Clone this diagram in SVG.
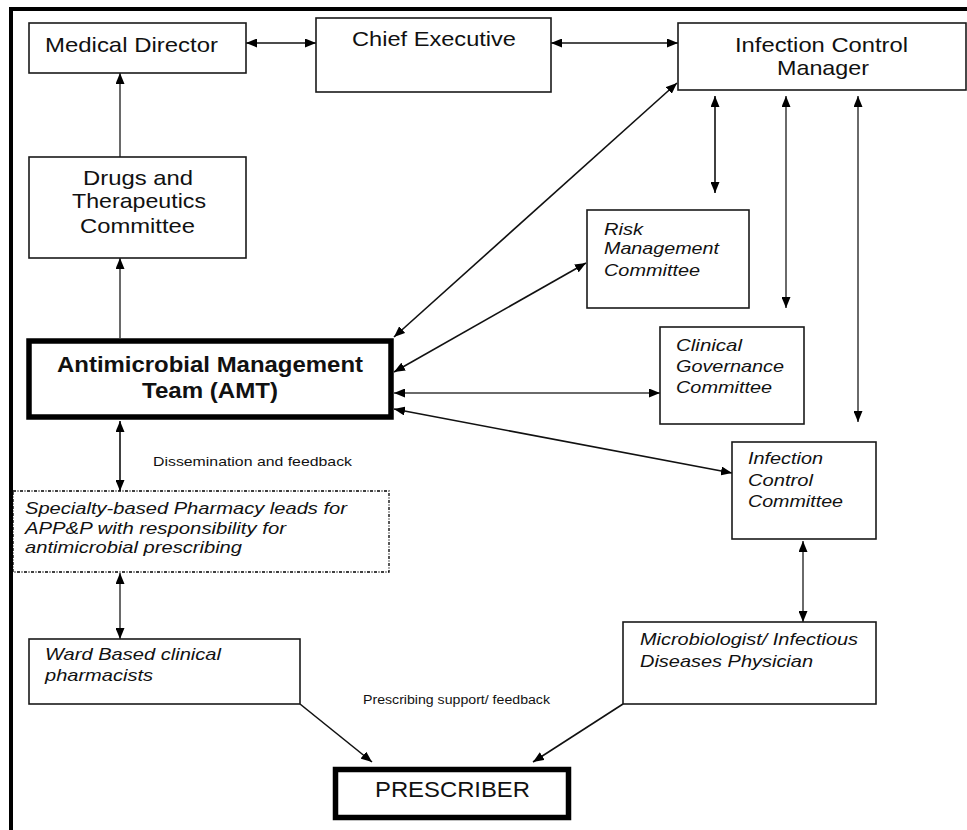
<svg xmlns="http://www.w3.org/2000/svg" width="967" height="830" viewBox="0 0 967 830">
  <style>
    text { font-family: "Liberation Sans", Arial, Helvetica, sans-serif; fill: #111; }
    .box { fill: #fff; stroke: #1a1a1a; stroke-width: 1.6; }
    .heavy { fill: #fff; stroke: #000; stroke-width: 5.5; }
    .dotted { fill: #fff; stroke: #000; stroke-width: 1.3; stroke-dasharray: 3 1.5 1 1.5; }
    .t20 { font-size: 21px; }
    .bold { font-size: 22px; font-weight: bold; }
    .it { font-size: 17px; font-style: italic; }
    .small { font-size: 13.5px; }
    .tiny { font-size: 12px; }
    .c { fill: none; stroke: #111; stroke-width: 1.6; }
    .g { fill: none; stroke: #6a6a6a; stroke-width: 2; }
  </style>
  <defs>
    <marker id="ah" markerUnits="userSpaceOnUse" markerWidth="11" markerHeight="9" refX="11" refY="4.5" orient="auto-start-reverse">
      <path d="M0,0 L11,4.5 L0,9 Z" fill="#000"/>
    </marker>
  </defs>

  <rect width="967" height="830" fill="#fff"/>

  <!-- outer frame (top and left rules) -->
  <g id="frame" stroke="#000" stroke-width="4" fill="none">
    <line x1="9" y1="9" x2="967" y2="9"/>
    <line x1="11" y1="7" x2="11" y2="830"/>
  </g>

  <!-- connectors -->
  <g id="connectors">
    <line class="c" x1="246" y1="43" x2="316" y2="43" marker-start="url(#ah)" marker-end="url(#ah)"/>
    <line class="c" x1="551" y1="43" x2="678" y2="43" marker-start="url(#ah)" marker-end="url(#ah)"/>
    <line class="g" x1="120" y1="157" x2="120" y2="73" marker-end="url(#ah)"/>
    <line class="g" x1="120" y1="338" x2="120" y2="258" marker-end="url(#ah)"/>
    <line class="c" x1="394" y1="337" x2="677" y2="83" marker-start="url(#ah)" marker-end="url(#ah)"/>
    <line class="c" x1="394" y1="372" x2="586" y2="263" marker-start="url(#ah)" marker-end="url(#ah)"/>
    <line class="g" x1="394" y1="393" x2="660" y2="393" marker-start="url(#ah)" marker-end="url(#ah)"/>
    <line class="c" x1="394" y1="409" x2="732" y2="473" marker-start="url(#ah)" marker-end="url(#ah)"/>
    <line class="c" x1="715" y1="96" x2="715" y2="193" marker-start="url(#ah)" marker-end="url(#ah)"/>
    <line class="g" x1="786" y1="96" x2="786" y2="308" marker-start="url(#ah)" marker-end="url(#ah)"/>
    <line class="g" x1="858" y1="96" x2="858" y2="422" marker-start="url(#ah)" marker-end="url(#ah)"/>
    <line class="g" x1="803" y1="541" x2="803" y2="622" marker-start="url(#ah)" marker-end="url(#ah)"/>
    <line class="c" x1="120" y1="421" x2="120" y2="491" marker-start="url(#ah)" marker-end="url(#ah)"/>
    <line class="g" x1="120" y1="573" x2="120" y2="639" marker-start="url(#ah)" marker-end="url(#ah)"/>
    <line class="c" x1="300" y1="704" x2="372" y2="762" marker-end="url(#ah)"/>
    <line class="c" x1="623" y1="704" x2="533" y2="762" marker-end="url(#ah)"/>
    <text class="small" x="153" y="466" textLength="199" lengthAdjust="spacingAndGlyphs">Dissemination and feedback</text>
    <text class="tiny" x="363" y="704" textLength="187" lengthAdjust="spacingAndGlyphs">Prescribing support/ feedback</text>
  </g>

  <g id="medical-director">
    <rect class="box" x="29" y="23" width="217" height="50"/>
    <text class="t20" x="45" y="52" textLength="173" lengthAdjust="spacingAndGlyphs">Medical Director</text>
  </g>

  <g id="chief-executive">
    <rect class="box" x="316" y="18" width="235" height="74"/>
    <text class="t20" x="352" y="46" textLength="164" lengthAdjust="spacingAndGlyphs">Chief Executive</text>
  </g>

  <g id="infection-control-manager">
    <rect class="box" x="678" y="23" width="288" height="67"/>
    <text class="t20" x="735" y="52" textLength="173" lengthAdjust="spacingAndGlyphs">Infection Control</text>
    <text class="t20" x="777" y="75" textLength="92" lengthAdjust="spacingAndGlyphs">Manager</text>
  </g>

  <g id="drugs-therapeutics">
    <rect class="box" x="29" y="157" width="217" height="101"/>
    <text class="t20" x="83" y="185" textLength="110" lengthAdjust="spacingAndGlyphs">Drugs and</text>
    <text class="t20" x="72" y="208" textLength="134" lengthAdjust="spacingAndGlyphs">Therapeutics</text>
    <text class="t20" x="80" y="233" textLength="115" lengthAdjust="spacingAndGlyphs">Committee</text>
  </g>

  <g id="amt">
    <rect class="heavy" x="29" y="341" width="362" height="76"/>
    <text class="bold" x="57" y="372" textLength="306" lengthAdjust="spacingAndGlyphs">Antimicrobial Management</text>
    <text class="bold" x="142" y="398" textLength="136" lengthAdjust="spacingAndGlyphs">Team (AMT)</text>
  </g>

  <g id="risk-management">
    <rect class="box" x="587" y="210" width="162" height="98"/>
    <text class="it" x="604" y="235" textLength="39" lengthAdjust="spacingAndGlyphs">Risk</text>
    <text class="it" x="604" y="254" textLength="115" lengthAdjust="spacingAndGlyphs">Management</text>
    <text class="it" x="604" y="276" textLength="96" lengthAdjust="spacingAndGlyphs">Committee</text>
  </g>

  <g id="clinical-governance">
    <rect class="box" x="660" y="327" width="144" height="97"/>
    <text class="it" x="676" y="351" textLength="66" lengthAdjust="spacingAndGlyphs">Clinical</text>
    <text class="it" x="676" y="372" textLength="108" lengthAdjust="spacingAndGlyphs">Governance</text>
    <text class="it" x="676" y="393" textLength="96" lengthAdjust="spacingAndGlyphs">Committee</text>
  </g>

  <g id="infection-control-committee">
    <rect class="box" x="732" y="442" width="144" height="97"/>
    <text class="it" x="748" y="464" textLength="75" lengthAdjust="spacingAndGlyphs">Infection</text>
    <text class="it" x="748" y="486" textLength="65" lengthAdjust="spacingAndGlyphs">Control</text>
    <text class="it" x="748" y="507" textLength="95" lengthAdjust="spacingAndGlyphs">Committee</text>
  </g>

  <g id="pharmacy-leads">
    <rect class="dotted" x="13" y="491" width="376" height="81"/>
    <text class="it" x="25" y="514" textLength="322" lengthAdjust="spacingAndGlyphs">Specialty-based Pharmacy leads for</text>
    <text class="it" x="25" y="534" textLength="261" lengthAdjust="spacingAndGlyphs">APP&amp;P with responsibility for</text>
    <text class="it" x="25" y="553" textLength="217" lengthAdjust="spacingAndGlyphs">antimicrobial prescribing</text>
  </g>

  <g id="ward-pharmacists">
    <rect class="box" x="29" y="639" width="271" height="65"/>
    <text class="it" x="45" y="660" textLength="176" lengthAdjust="spacingAndGlyphs">Ward Based clinical</text>
    <text class="it" x="45" y="681" textLength="108" lengthAdjust="spacingAndGlyphs">pharmacists</text>
  </g>

  <g id="microbiologist">
    <rect class="box" x="623" y="622" width="253" height="82"/>
    <text class="it" x="640" y="645" textLength="218" lengthAdjust="spacingAndGlyphs">Microbiologist/ Infectious</text>
    <text class="it" x="640" y="667" textLength="173" lengthAdjust="spacingAndGlyphs">Diseases Physician</text>
  </g>

  <g id="prescriber">
    <rect class="heavy" x="335.5" y="769.5" width="233" height="48"/>
    <text x="375" y="797" font-size="22" textLength="155" lengthAdjust="spacingAndGlyphs">PRESCRIBER</text>
  </g>
</svg>
